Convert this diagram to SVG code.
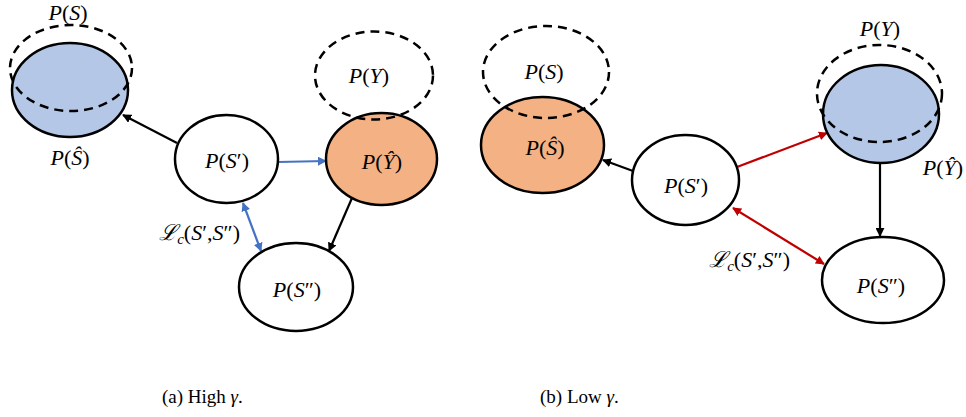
<svg xmlns="http://www.w3.org/2000/svg" width="966" height="417" viewBox="0 0 966 417">
<style>
.node{stroke:#000;stroke-width:2.5}
.w{fill:#fff}
.b{fill:#b4c7e7}
.o{fill:#f4b183}
.dash{fill:none;stroke:#000;stroke-width:2.5;stroke-dasharray:9 6}
.t{font-family:'Liberation Serif','DejaVu Serif','Times New Roman',serif;font-size:22px;fill:#000;text-anchor:middle}
.i{font-style:italic}
.cap{font-family:'Liberation Serif','DejaVu Serif','Times New Roman',serif;font-size:19px;fill:#000}
.ak{stroke:#000;stroke-width:2.2;fill:none}
.ab{stroke:#4472c4;stroke-width:2.2;fill:none}
.ar{stroke:#c00000;stroke-width:2.2;fill:none}
</style>
<defs>
<marker id="mk" viewBox="0 0 10 10" refX="9" refY="5" markerWidth="9" markerHeight="9" markerUnits="userSpaceOnUse" orient="auto-start-reverse"><path d="M0,0 L10,5 L0,10 z" fill="#000"/></marker>
<marker id="mb" viewBox="0 0 10 10" refX="9" refY="5" markerWidth="9" markerHeight="9" markerUnits="userSpaceOnUse" orient="auto-start-reverse"><path d="M0,0 L10,5 L0,10 z" fill="#4472c4"/></marker>
<marker id="mr" viewBox="0 0 10 10" refX="9" refY="5" markerWidth="9" markerHeight="9" markerUnits="userSpaceOnUse" orient="auto-start-reverse"><path d="M0,0 L10,5 L0,10 z" fill="#c00000"/></marker>
</defs>

<g id="connectors">
<line class="ak" x1="177" y1="143" x2="123" y2="115" marker-end="url(#mk)"/>
<line class="ab" x1="278" y1="162" x2="326" y2="161" marker-end="url(#mb)"/>
<line class="ab" x1="243" y1="203" x2="261" y2="251" marker-start="url(#mb)" marker-end="url(#mb)"/>
<line class="ak" x1="352" y1="198" x2="329" y2="251" marker-end="url(#mk)"/>
<line class="ak" x1="633" y1="171" x2="603" y2="160" marker-end="url(#mk)"/>
<line class="ar" x1="737" y1="167" x2="827" y2="133" marker-end="url(#mr)"/>
<line class="ak" x1="880" y1="163" x2="880" y2="236" marker-end="url(#mk)"/>
<line class="ar" x1="733" y1="208" x2="824" y2="264" marker-start="url(#mr)" marker-end="url(#mr)"/>
</g>

<g id="a-Shat">
<ellipse class="node b" cx="70" cy="90" rx="58" ry="47"/>
<text class="t" x="70" y="165"><tspan class="i">P</tspan>(<tspan class="i">Ŝ</tspan>)</text>
</g>
<g id="a-S">
<ellipse class="dash" cx="71" cy="68" rx="61" ry="43"/>
<text class="t" x="68" y="20"><tspan class="i">P</tspan>(<tspan class="i">S</tspan>)</text>
</g>
<g id="a-Sp">
<ellipse class="node w" cx="226.5" cy="159" rx="51.5" ry="44"/>
<text class="t" x="227" y="168"><tspan class="i">P</tspan>(<tspan class="i">S</tspan>′)</text>
</g>
<g id="a-Yhat">
<ellipse class="node o" cx="381.5" cy="159" rx="55.5" ry="46"/>
<text class="t" x="382" y="169"><tspan class="i">P</tspan>(<tspan class="i">Ŷ</tspan>)</text>
</g>
<g id="a-Y">
<ellipse class="dash" cx="374" cy="75.5" rx="59" ry="44"/>
<text class="t" x="369" y="83"><tspan class="i">P</tspan>(<tspan class="i">Y</tspan>)</text>
</g>
<g id="a-Spp">
<ellipse class="node w" cx="296" cy="287" rx="57" ry="44"/>
<text class="t" x="297" y="297"><tspan class="i">P</tspan>(<tspan class="i">S</tspan>″)</text>
</g>
<text class="t" x="240" y="240" style="text-anchor:end"><tspan class="i">ℒ</tspan><tspan class="i" font-size="15" dy="4">c</tspan><tspan dy="-4">(</tspan><tspan class="i">S</tspan>′,<tspan class="i">S</tspan>″)</text>

<g id="b-Shat">
<ellipse class="node o" cx="542.5" cy="145" rx="61.5" ry="48"/>
<text class="t" x="545" y="155"><tspan class="i">P</tspan>(<tspan class="i">Ŝ</tspan>)</text>
</g>
<g id="b-S">
<ellipse class="dash" cx="546" cy="72" rx="63" ry="46"/>
<text class="t" x="544" y="79"><tspan class="i">P</tspan>(<tspan class="i">S</tspan>)</text>
</g>
<g id="b-Sp">
<ellipse class="node w" cx="685.5" cy="180" rx="53.5" ry="45"/>
<text class="t" x="686" y="193"><tspan class="i">P</tspan>(<tspan class="i">S</tspan>′)</text>
</g>
<g id="b-Yhat">
<ellipse class="node b" cx="881" cy="114" rx="58" ry="49"/>
<text class="t" x="943" y="175"><tspan class="i">P</tspan>(<tspan class="i">Ŷ</tspan>)</text>
</g>
<g id="b-Y">
<ellipse class="dash" cx="879.5" cy="93.5" rx="62.5" ry="48.5"/>
<text class="t" x="880" y="36"><tspan class="i">P</tspan>(<tspan class="i">Y</tspan>)</text>
</g>
<g id="b-Spp">
<ellipse class="node w" cx="883" cy="280" rx="61" ry="43"/>
<text class="t" x="881" y="293"><tspan class="i">P</tspan>(<tspan class="i">S</tspan>″)</text>
</g>
<text class="t" x="790" y="267" style="text-anchor:end"><tspan class="i">ℒ</tspan><tspan class="i" font-size="15" dy="4">c</tspan><tspan dy="-4">(</tspan><tspan class="i">S</tspan>′,<tspan class="i">S</tspan>″)</text>

<text class="cap" x="162" y="403">(a) High <tspan class="i">γ</tspan>.</text>
<text class="cap" x="540" y="403">(b) Low <tspan class="i">γ</tspan>.</text>
</svg>
